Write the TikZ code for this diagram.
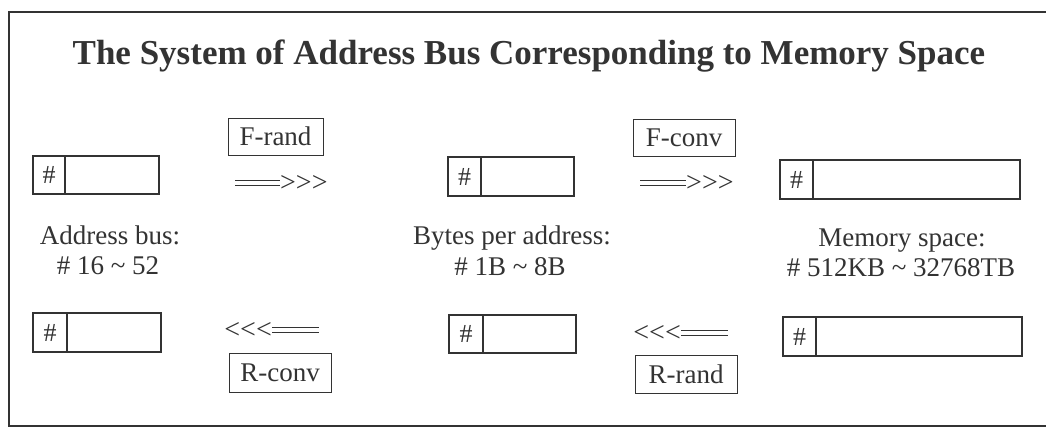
\documentclass[tikz,border=0pt]{standalone}
\usepackage{fontspec}
\setmainfont{Liberation Serif}
\definecolor{ink}{HTML}{333333}
\tikzset{
  frame/.style={draw=ink, line width=2.2pt},
  regbox/.style={draw=ink, line width=2.8pt, inner sep=0pt},
  hashcell/.style={draw=ink, line width=2.8pt, inner sep=0pt, text=ink, anchor=west, font=\fontsize{26}{30}\selectfont},
  lblbox/.style={draw=ink, line width=1pt, inner sep=0pt, text=ink, font=\fontsize{27}{30}\selectfont},
  txt/.style={inner sep=0pt, text=ink, anchor=base, font=\fontsize{27}{30}\selectfont},
  heads/.style={inner sep=0pt, text=ink, font=\fontsize{28}{30}\selectfont},
  titletxt/.style={inner sep=0pt, text=ink, anchor=base, font=\bfseries\fontsize{35}{40}\selectfont},
  dbl/.style={draw=ink, double=white, double distance=3.6pt, line width=1.3pt},
}
\begin{document}
\begin{tikzpicture}[x=1pt, y=-1pt]
\useasboundingbox (0,0) rectangle (1046,428);
\fill[white] (0,0) rectangle (1046,428);
% frame (open on the right)
\draw[frame] (1046,12) -- (9,12) -- (9,426) -- (1046,426);
% title
\node[titletxt] (title) at (529,65) {The System of Address Bus Corresponding to Memory Space};

% register boxes
\node[regbox, minimum width=126pt, minimum height=38pt] (b1) at (96,175) {};
\node[hashcell, minimum width=32pt, minimum height=38pt] (h1) at (b1.west) {\#};
\node[regbox, minimum width=126pt, minimum height=39pt] (b2) at (511,176.5) {};
\node[hashcell, minimum width=33pt, minimum height=39pt] (h2) at (b2.west) {\#};
\node[regbox, minimum width=240pt, minimum height=39pt] (b3) at (900,179.5) {};
\node[hashcell, minimum width=33pt, minimum height=39pt] (h3) at (b3.west) {\#};
\node[regbox, minimum width=128pt, minimum height=39pt] (b4) at (97,332.5) {};
\node[hashcell, minimum width=34pt, minimum height=39pt] (h4) at (b4.west) {\#};
\node[regbox, minimum width=127pt, minimum height=38pt] (b5) at (512.5,334) {};
\node[hashcell, minimum width=34pt, minimum height=38pt] (h5) at (b5.west) {\#};
\node[regbox, minimum width=239pt, minimum height=39pt] (b6) at (902.5,336.5) {};
\node[hashcell, minimum width=33pt, minimum height=39pt] (h6) at (b6.west) {\#};

% label boxes
\node[lblbox, minimum width=95pt, minimum height=37pt] (frand) at (275.5,136.5) {F-rand};
\node[lblbox, minimum width=102pt, minimum height=37pt] (fconv) at (684,138) {F-conv};
\node[lblbox, minimum width=102pt, minimum height=39pt] (rconv) at (280,372.5) {R-conv};
\node[lblbox, minimum width=102pt, minimum height=38pt] (rrand) at (686,374) {R-rand};

% arrows
\node[heads, anchor=west] (a1h) at (280,183) {>{}>{}>};
\coordinate (a1t) at (235,183);
\draw[dbl] (a1t) -- (a1h.west);
\node[heads, anchor=west] (a2h) at (686,183) {>{}>{}>};
\coordinate (a2t) at (640,183);
\draw[dbl] (a2t) -- (a2h.west);
\node[heads, anchor=east] (a3h) at (272,330) {<{}<{}<};
\coordinate (a3t) at (319,330);
\draw[dbl] (a3h.east) -- (a3t);
\node[heads, anchor=east] (a4h) at (681,333) {<{}<{}<};
\coordinate (a4t) at (728,333);
\draw[dbl] (a4h.east) -- (a4t);

% descriptive text
\node[txt] (t1a) at (110,244) {Address bus:};
\node[txt] (t1b) at (108,274) {\# 16 \textasciitilde{} 52};
\node[txt] (t2a) at (512,244) {Bytes per address:};
\node[txt] (t2b) at (510,275) {\# 1B \textasciitilde{} 8B};
\node[txt] (t3a) at (902,246) {Memory space:};
\node[txt] (t3b) at (901,276) {\# 512KB \textasciitilde{} 32768TB};
\end{tikzpicture}
\end{document}
